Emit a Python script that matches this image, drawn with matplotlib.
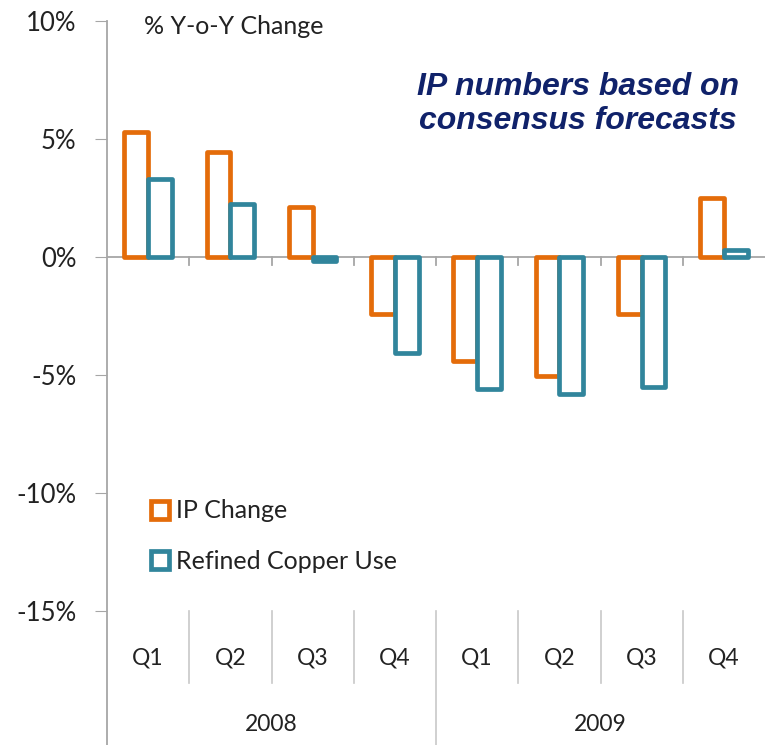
import matplotlib.pyplot as plt
from matplotlib.patches import Patch
import numpy as np

quarters = ["Q1", "Q2", "Q3", "Q4", "Q1", "Q2", "Q3", "Q4"]
years = ["2008", "2009"]
ip_change = [5.3, 4.45, 2.1, -2.4, -4.4, -5.05, -2.4, 2.5]
copper_use = [3.3, 2.25, -0.15, -4.05, -5.6, -5.8, -5.5, 0.3]

orange = "#E46C0A"
teal = "#31859C"
grey = "#A6A6A6"
txt = "#222222"

plt.rcParams["font.family"] = ["Lato", "DejaVu Sans"]

fig = plt.figure(figsize=(7.65, 7.45), dpi=100)
ax = fig.add_axes([107 / 765, 0, 1 - 107 / 765, 724 / 745])

x = np.arange(len(quarters))
w = 0.29
ax.bar(x - w / 2, ip_change, width=w, facecolor="white", edgecolor=orange,
       linewidth=3.4, joinstyle="round", label="IP Change", zorder=3)
ax.bar(x + w / 2, copper_use, width=w, facecolor="white", edgecolor=teal,
       linewidth=3.4, joinstyle="round", label="Refined Copper Use", zorder=3)

ax.set_xlim(-0.5, len(quarters) - 0.5)
ax.set_ylim(-20.68, 10)
ax.set_yticks([-15, -10, -5, 0, 5, 10])
ax.set_yticklabels(["-15%", "-10%", "-5%", "0%", "5%", "10%"], fontsize=18.5, color=txt)
ax.tick_params(axis="y", length=9, color=grey, pad=13)
ax.set_xticks([])

for s in ["top", "right", "bottom"]:
    ax.spines[s].set_visible(False)
ax.spines["left"].set_color(grey)
ax.spines["left"].set_linewidth(1.3)

# zero line and small ticks between quarters
ax.axhline(0, color=grey, linewidth=1.3, zorder=2)
for b in np.arange(0.5, len(quarters) - 0.5, 1):
    ax.plot([b, b], [0, -0.35], color=grey, linewidth=1.3, zorder=2)

# category area below -15%
for b in np.arange(0.5, len(quarters) - 0.5, 1):
    if b == 3.5:
        ax.plot([b, b], [-15, -20.68], color="#C8C8C8", linewidth=1.2)
    else:
        ax.plot([b, b], [-15, -18.05], color="#C8C8C8", linewidth=1.2)
for i, q in enumerate(quarters):
    ax.text(i, -17.0, q, ha="center", va="center", fontsize=16.5, color=txt)
for j, yr in enumerate(years):
    ax.text(1.5 + 4 * j, -19.8, yr, ha="center", va="center", fontsize=16.5, color=txt)

ax.text(-0.05, 9.75, "% Y-o-Y Change", ha="left", va="center", fontsize=18,
        color=txt)

fig.text(578 / 765, 1 - 104 / 745, "IP numbers based on\nconsensus forecasts",
         ha="center", va="center", fontsize=23, fontweight="bold", style="italic",
         color="#10226A", family="Liberation Sans", linespacing=1.18)

handles = [Patch(facecolor="white", edgecolor=orange, linewidth=3.4),
           Patch(facecolor="white", edgecolor=teal, linewidth=3.4)]
ax.legend(handles, ["IP Change", "Refined Copper Use"], loc="upper left",
          bbox_to_anchor=(128 / 765, 1 - 477 / 745), bbox_transform=fig.transFigure,
          frameon=False, fontsize=18, handlelength=0.72, handleheight=0.72,
          handletextpad=0.3, labelspacing=1.1, labelcolor=txt)

fig.savefig("out.png", dpi=100, facecolor="white")
